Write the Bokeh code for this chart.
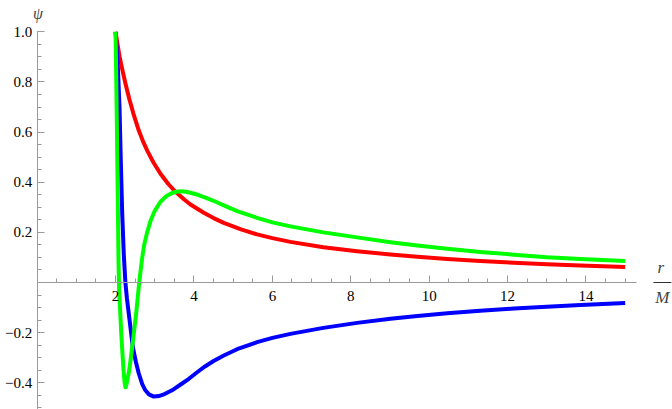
from bokeh.plotting import figure
from bokeh.models import LinearAxis, FixedTicker, CustomJSTickFormatter, Label, Range1d
from bokeh.core.properties import value
from bokeh.embed import file_html
from bokeh.resources import INLINE

# ---- data (r/M, psi) ----
red_r = [2.0, 2.05, 2.1, 2.17, 2.25, 2.35, 2.45, 2.59, 2.7, 2.81, 2.97, 3.15, 3.35, 3.53,
         3.75, 3.91, 4.25, 4.5, 4.76, 5.2, 5.61, 6.0, 6.46, 7.3, 8.16, 9.01, 9.7, 10.46,
         11.3, 12.16, 13.0, 13.86, 15.0]
red_psi = [1.0, 0.95, 0.902, 0.85, 0.795, 0.732, 0.676, 0.607, 0.563, 0.525, 0.478, 0.433,
           0.392, 0.362, 0.331, 0.311, 0.278, 0.257, 0.238, 0.212, 0.192, 0.177, 0.162,
           0.141, 0.125, 0.112, 0.103, 0.094, 0.086, 0.079, 0.073, 0.068, 0.062]

green_r = [2.0, 2.03, 2.056, 2.075, 2.09, 2.11, 2.143, 2.17, 2.2, 2.23, 2.253, 2.28, 2.31,
           2.337, 2.38, 2.423, 2.475, 2.526, 2.565, 2.6, 2.64, 2.68, 2.73, 2.8, 2.89, 3.0,
           3.145, 3.3, 3.44, 3.55, 3.66, 3.8, 3.91, 4.1, 4.29, 4.5, 4.76, 5.1, 5.61, 6.0,
           6.46, 7.3, 8.16, 9.01, 9.7, 10.46, 11.3, 12.16, 13.0, 13.86, 15.0]
green_psi = [1.0, 0.66, 0.33, 0.08, -0.03, -0.09, -0.2, -0.27, -0.345, -0.398, -0.418,
             -0.405, -0.38, -0.36, -0.312, -0.258, -0.19, -0.122, -0.06, -0.005, 0.05, 0.1,
             0.15, 0.197, 0.245, 0.286, 0.322, 0.345, 0.357, 0.362, 0.364, 0.362, 0.358,
             0.35, 0.339, 0.326, 0.308, 0.285, 0.258, 0.24, 0.224, 0.200, 0.180, 0.161,
             0.148, 0.135, 0.122, 0.111, 0.101, 0.094, 0.086]

blue_r = [2.0, 2.06, 2.1, 2.13, 2.17, 2.21, 2.25, 2.29, 2.337, 2.44, 2.52, 2.59, 2.68, 2.76,
          2.85, 2.975, 3.1, 3.25, 3.44, 3.65, 3.87, 4.08, 4.29, 4.5, 4.76, 5.1, 5.61, 6.0,
          6.46, 7.3, 8.16, 9.01, 9.7, 10.46, 11.3, 12.16, 13.0, 13.86, 15.0]
blue_psi = [1.0, 0.85, 0.7, 0.5, 0.27, 0.11, 0.0, -0.065, -0.125, -0.258, -0.318, -0.362,
            -0.405, -0.43, -0.446, -0.455, -0.453, -0.445, -0.43, -0.408, -0.384, -0.358,
            -0.334, -0.313, -0.291, -0.266, -0.238, -0.221, -0.205, -0.181, -0.161, -0.145,
            -0.134, -0.123, -0.113, -0.104, -0.097, -0.090, -0.082]

x_major = [2, 4, 6, 8, 10, 12, 14]
x_labels = ["2", "4", "6", "8", "10", "12", "14"]
x_minor = [i * 0.5 for i in range(1, 31)]
y_major = [-0.4, -0.2, 0.2, 0.4, 0.6, 0.8, 1.0]
y_labels = ["\u22120.4", "\u22120.2", "0.2", "0.4", "0.6", "0.8", "1.0"]
y_minor = [round(-0.5 + i * 0.05, 2) for i in range(0, 31)]

SERIF = "Liberation Serif"
AXIS_GRAY = "#9a9a9a"

p = figure(width=672, height=409, output_backend="svg", toolbar_location=None,
           x_axis_location=None, y_axis_location=None,
           x_range=Range1d(-0.936, 16.207), y_range=Range1d(-0.5066, 1.125),
           min_border=0, min_border_left=0, min_border_right=0,
           min_border_top=0, min_border_bottom=0)
p.outline_line_color = None
p.background_fill_color = "white"
p.border_fill_color = "white"
p.grid.visible = False
p.xgrid.visible = False
p.ygrid.visible = False

xaxis = LinearAxis(fixed_location=0, bounds=(0, 15.29),
                   ticker=FixedTicker(ticks=x_major, minor_ticks=x_minor),
                   formatter=CustomJSTickFormatter(code="return '';"))
yaxis = LinearAxis(fixed_location=0, bounds=(-0.6, 1.0),
                   ticker=FixedTicker(ticks=y_major, minor_ticks=y_minor),
                   formatter=CustomJSTickFormatter(code="return '';"))
for ax in (xaxis, yaxis):
    ax.axis_line_color = AXIS_GRAY
    ax.axis_line_width = 1
    ax.major_tick_line_color = AXIS_GRAY
    ax.minor_tick_line_color = AXIS_GRAY
    ax.major_tick_in = 7
    ax.major_tick_out = 0
    ax.minor_tick_in = 4
    ax.minor_tick_out = 0
    ax.major_label_text_font_size = "0px"
p.add_layout(xaxis, "below")
p.add_layout(yaxis, "left")

p.line(red_r, red_psi, line_color="#ff0000", line_width=4, line_join="round")
p.line(blue_r, blue_psi, line_color="#0000ff", line_width=4, line_join="round")
p.line(green_r, green_psi, line_color="#00ff00", line_width=4, line_join="round")

# tick labels
p.text(x=x_major, y=[0] * len(x_major), text=x_labels, text_align="center",
       text_baseline="top", y_offset=8, text_font=value(SERIF),
       text_font_size="15px", text_color="black")
p.text(x=[0] * len(y_major), y=y_major, text=y_labels, text_align="right",
       text_baseline="middle", x_offset=-5, text_font=value(SERIF),
       text_font_size="15px", text_color="black")

p.add_layout(Label(x=0.02, y=1.073, text="ψ", text_align="center", text_baseline="middle",
                   text_font=SERIF, text_font_style="italic", text_font_size="16px"))
p.add_layout(Label(x=15.91, y=0.06, text="r", text_align="center", text_baseline="middle",
                   text_font=SERIF, text_font_style="italic", text_font_size="17px"))
p.add_layout(Label(x=15.95, y=-0.06, text="M", text_align="center", text_baseline="middle",
                   text_font=SERIF, text_font_style="italic", text_font_size="17px"))
p.segment(x0=[15.72], y0=[0.0], x1=[16.18], y1=[0.0], line_color="#333333", line_width=1)

open("out.html", "w").write(file_html(p, INLINE))
